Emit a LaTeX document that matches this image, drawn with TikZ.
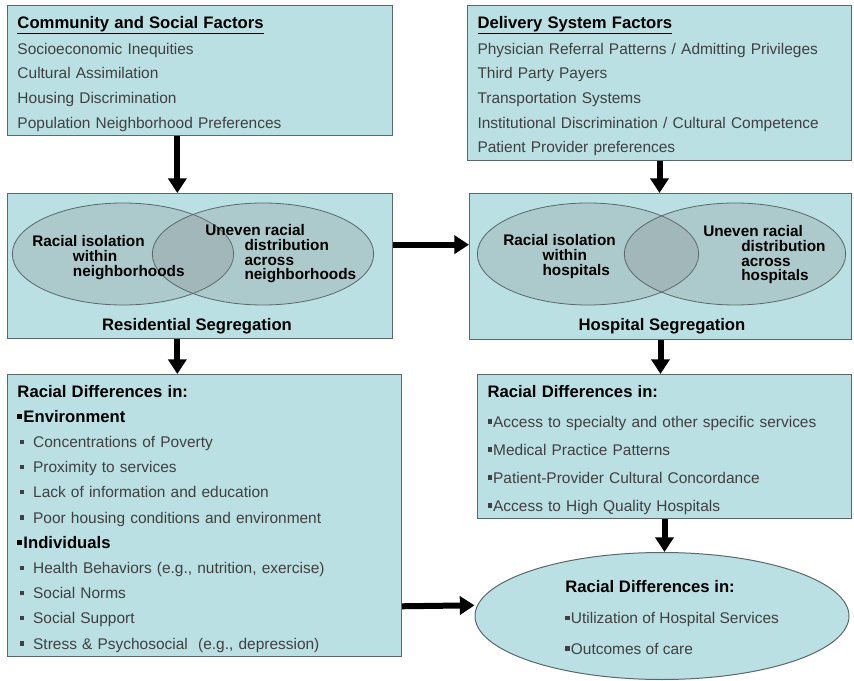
\documentclass[tikz,border=0pt]{standalone}
\usepackage{fontspec}
\setmainfont{Liberation Sans}
\usetikzlibrary{arrows.meta,shapes.geometric}

\definecolor{boxfill}{RGB}{186,224,227}
\definecolor{boxline}{RGB}{90,104,106}
\definecolor{txtgray}{RGB}{64,64,64}

% small square bullets and bold headings
\newcommand{\sqb}{\rule[0.22em]{0.28em}{0.28em}}
\newcommand{\itm}{\hspace*{2pt}\sqb\hspace*{6.5pt}}
\newcommand{\hd}[1]{{\color{black}\fontsize{12.5}{15}\selectfont\bfseries #1}}
\newcommand{\tp}{\rule{0pt}{13.6pt}}

\begin{document}
\begin{tikzpicture}[x=0.75pt, y=-0.75pt,
    box/.style={anchor=north west, draw=boxline, line width=0.75pt, fill=boxfill,
        inner xsep=7.5pt, align=left, text=txtgray},
    venn/.style={ellipse, draw=boxline, line width=0.6pt, fill=gray, fill opacity=0.24,
        minimum width=166pt, minimum height=76.5pt, inner sep=0},
    vtxt/.style={anchor=north west, inner sep=0, align=left, text=black,
        font=\fontsize{11.5}{11}\selectfont\bfseries},
    segcap/.style={anchor=base, inner sep=0, font=\fontsize{12.5}{15}\selectfont\bfseries},
    arr/.style={line width=4.5pt, -{Triangle[length=11pt,width=13.5pt]}}]
    \useasboundingbox (0,0) rectangle (854,681);

    % Factor boxes
    \node[box, text width=273.75pt, minimum height=97.5pt, font=\fontsize{11.6}{18.5}\selectfont] (comm) at (7,5)
        {\tp\hd{\underline{Community and Social Factors}}\\[1pt]
         Socioeconomic Inequities\\
         Cultural Assimilation\\
         Housing Discrimination\\
         Population Neighborhood Preferences};
    \node[box, text width=273pt, minimum height=116.25pt, font=\fontsize{11.6}{18.5}\selectfont] (deliv) at (467,5)
        {\tp\hd{\underline{Delivery System Factors}}\\[1pt]
         Physician Referral Patterns / Admitting Privileges\\
         Third Party Payers\\
         Transportation Systems\\
         Institutional Discrimination / Cultural Competence\\
         Patient Provider preferences};

    % Segregation boxes
    \node[box, minimum width=288.75pt, minimum height=108.75pt] (res) at (7,193) {};
    \node[box, minimum width=286.5pt, minimum height=109.5pt] (hosp) at (469,193) {};
    \node[venn] (resl) at (123,254) {};
    \node[venn] (resr) at (263,254) {};
    \node[venn] (hospl) at (588,254) {};
    \node[venn] (hospr) at (735,254) {};
    \node[vtxt] (reslt) at (32,235.5) {Racial isolation\\\hspace*{30.5pt}within\\\hspace*{30.5pt}neighborhoods};
    \node[vtxt] (resrt) at (205,224.5) {Uneven racial\\\hspace*{29.5pt}distribution\\\hspace*{29.5pt}across\\\hspace*{29.5pt}neighborhoods};
    \node[vtxt] (hosplt) at (503,234.5) {Racial isolation\\\hspace*{29.5pt}within\\\hspace*{29.5pt}hospitals};
    \node[vtxt] (hosprt) at (703,225.5) {Uneven racial\\\hspace*{28.5pt}distribution\\\hspace*{28.5pt}across\\\hspace*{28.5pt}hospitals};
    \node[segcap] (rescap) at (197,330) {Residential Segregation};
    \node[segcap] (hospcap) at (662,330) {Hospital Segregation};

    % Differences
    \node[box, text width=280.5pt, minimum height=210.75pt, font=\fontsize{11.6}{18.9}\selectfont] (env) at (7,374)
        {\tp\hd{Racial Differences in:}\\
         \hd{\sqb\hspace{1pt}Environment}\\
         \itm Concentrations of Poverty\\
         \itm Proximity to services\\
         \itm Lack of information and education\\
         \itm Poor housing conditions and environment\\
         \hd{\sqb\hspace{1pt}Individuals}\\
         \itm Health Behaviors (e.g., nutrition, exercise)\\
         \itm Social Norms\\
         \itm Social Support\\
         \itm Stress \& Psychosocial\ \ (e.g., depression)};
    \node[box, text width=265.5pt, minimum height=108pt, font=\fontsize{11.6}{21}\selectfont] (hrd) at (477,374)
        {\tp\hd{Racial Differences in:}\\[1.5pt]
         \sqb\hspace{1pt}Access to specialty and other specific services\\
         \sqb\hspace{1pt}Medical Practice Patterns\\
         \sqb\hspace{1pt}Patient-Provider Cultural Concordance\\
         \sqb\hspace{1pt}Access to High Quality Hospitals};

    % Outcomes
    \node[ellipse, draw=boxline, line width=0.75pt, fill=boxfill,
        minimum width=280.5pt, minimum height=95.25pt] (out) at (662,616) {};
    \node[anchor=north west, inner sep=0, align=left, text=txtgray,
        font=\fontsize{11.6}{22.9}\selectfont] (outtxt) at (565,580)
        {\hd{Racial Differences in:}\\[0.5pt]
         \sqb\hspace{1pt}Utilization of Hospital Services\\
         \sqb\hspace{1pt}Outcomes of care};

    % Edges
    \draw[arr] ([xshift=-17pt]comm.south) -- ([xshift=-17pt]comm.south |- res.north);
    \draw[arr] ([xshift=-17pt]res.south) -- ([xshift=-17pt]res.south |- env.north);
    \draw[arr] ([yshift=16pt]res.east) -- ([yshift=16pt]res.east -| hosp.west);
    \foreach \a/\b in {deliv/hosp, hosp/hrd, hrd/out} {
        \draw[arr] (\a.south) -- (\a.south |- \b.north);
    }
    \draw[arr] ([yshift=-68pt]env.east) -- ([yshift=8pt]out.west);
\end{tikzpicture}
\end{document}
